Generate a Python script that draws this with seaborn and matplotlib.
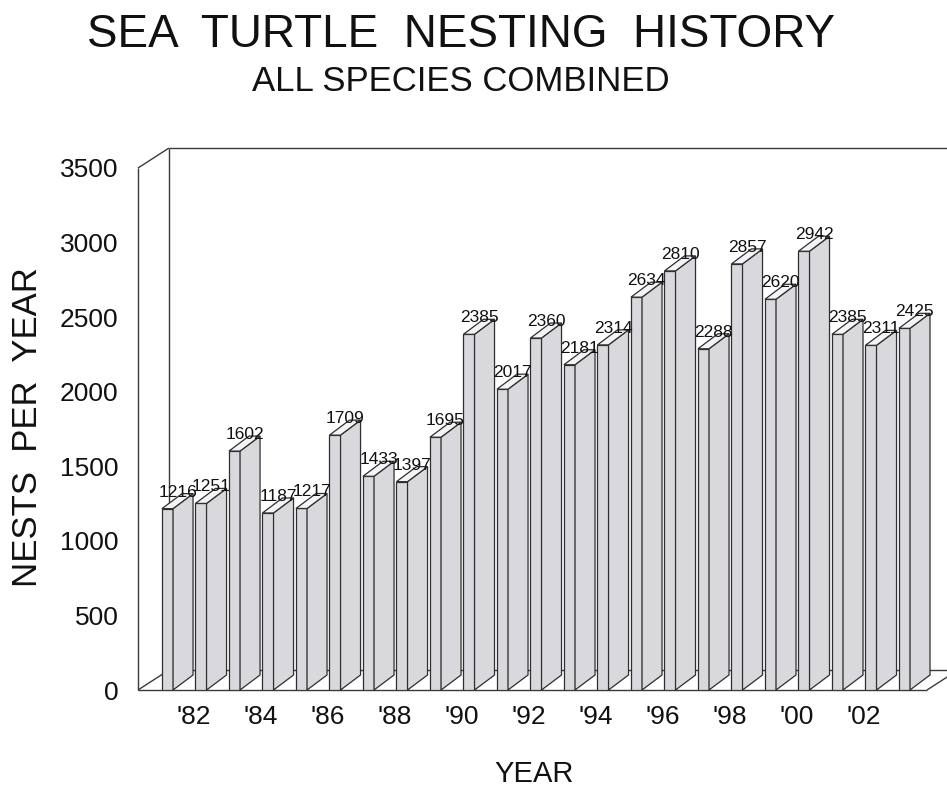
import matplotlib
matplotlib.use("Agg")
import matplotlib.pyplot as plt
from matplotlib.patches import Polygon
from matplotlib.collections import LineCollection
from matplotlib.transforms import ScaledTranslation
from matplotlib import font_manager
import pandas as pd
import seaborn as sns

# ---- data -------------------------------------------------------------
years = list(range(1981, 2004))
nests = [1216, 1251, 1602, 1187, 1217, 1709, 1433, 1397, 1695, 2385, 2017,
         2360, 2181, 2314, 2634, 2810, 2288, 2857, 2620, 2942, 2385, 2311, 2425]
tick_years = list(range(1982, 2003, 2))
tick_labels = ["'" + str(y)[2:] for y in tick_years]
y_ticks = [0, 500, 1000, 1500, 2000, 2500, 3000, 3500]

title = "SEA  TURTLE  NESTING  HISTORY"
subtitle = "ALL SPECIES COMBINED"
x_label = "YEAR"
y_label = "NESTS  PER  YEAR"

# ---- style ------------------------------------------------------------
sns.set_style("white")
plt.rcParams["font.family"] = ["Liberation Sans", "DejaVu Sans"]

installed = {f.name for f in font_manager.fontManager.ttflist}
if "Liberation Sans Narrow" in installed:
    narrow = ["Liberation Sans Narrow", "Liberation Sans"]
    value_size, xtick_size = 14.5, 21
else:
    narrow = ["Liberation Sans", "DejaVu Sans"]
    value_size, xtick_size = 12.5, 19

FACE = "#d9d9dd"
TOP = "#f4f4f6"
EDGE = "#2e2e2e"
WALL = "#3a3a3a"
INK = "#111111"

W, H = 947, 791
fig = plt.figure(figsize=(W / 100, H / 100), dpi=100)
ax = fig.add_axes([138 / W, 101 / H, 789 / W, 522 / H])
ax.set_facecolor("none")

df = pd.DataFrame({"year": [str(y) for y in years], "nests": nests})
sns.barplot(data=df, x="year", y="nests", order=list(df["year"]),
            width=0.33, color=FACE, saturation=1, edgecolor=EDGE,
            linewidth=0.9, ax=ax, zorder=3)

ax.set_xlim(-0.881, 22.672)
ax.set_ylim(0, 3500)
for s in ax.spines.values():
    s.set_visible(False)

# pixels per data unit, used for the oblique depth of the drawing
p0 = ax.transData.transform((0, 0))
p1 = ax.transData.transform((1, 1))
sx, sy = p1[0] - p0[0], p1[1] - p0[1]

# walls and floor of the box
xmin, xmax = ax.get_xlim()
wdx, wdy = 31 / sx, 20 / sy
top = y_ticks[-1]
segs = [
    [(xmin, 0), (xmin, top)],
    [(xmin, top), (xmin + wdx, top + wdy)],
    [(xmin + wdx, wdy), (xmin + wdx, top + wdy)],
    [(xmin + wdx, top + wdy), (xmax + wdx, top + wdy)],
    [(xmin, 0), (xmax, 0)],
    [(xmin + wdx, wdy), (xmax + wdx, wdy)],
    [(xmin, 0), (xmin + wdx, wdy)],
    [(xmax, 0), (xmax + wdx, wdy)],
]
ax.add_collection(LineCollection(segs, colors=WALL, linewidths=1.0,
                                 zorder=1, clip_on=False))

# side and top faces of each bar, then its value
bdx, bdy = 20 / sx, 15 / sy
bars = list(ax.patches)
for bar, v in zip(bars, nests):
    x0 = bar.get_x()
    x1 = x0 + bar.get_width()
    h = bar.get_height()
    side = Polygon([(x1, 0), (x1 + bdx, bdy), (x1 + bdx, h + bdy), (x1, h)],
                   closed=True, facecolor=FACE, edgecolor=EDGE, lw=0.9,
                   zorder=3, clip_on=False)
    lid = Polygon([(x0, h), (x1, h), (x1 + bdx, h + bdy), (x0 + bdx, h + bdy)],
                  closed=True, facecolor=TOP, edgecolor=EDGE, lw=0.9,
                  zorder=3, clip_on=False)
    ax.add_patch(side)
    ax.add_patch(lid)
    ax.text(x0 + bar.get_width() / 2 + 10 / sx, h + 12 / sy, f"{v}",
            ha="center", va="baseline", fontsize=value_size,
            family=narrow, color=INK, zorder=5, clip_on=False)

# axes ticks
ax.set_yticks(y_ticks)
ax.set_yticklabels([str(t) for t in y_ticks])
ax.set_xticks([years.index(y) for y in tick_years])
ax.set_xticklabels(tick_labels, family=narrow)
ax.tick_params(axis="y", length=0, pad=14, labelsize=19, labelcolor=INK)
ax.tick_params(axis="x", length=0, pad=11, labelsize=xtick_size,
               labelcolor=INK)
shift = ScaledTranslation(-7 / 100, 0, fig.dpi_scale_trans)
for lab in ax.get_xticklabels():
    lab.set_transform(lab.get_transform() + shift)

ax.set_xlabel(x_label, fontsize=21, va="baseline", color=INK)
ax.xaxis.set_label_coords((534 - 138) / 789, -(782 - 690) / 522)
ax.set_ylabel("")

fig.text(28 / W, 1 - 427 / H, y_label, rotation=90, ha="center",
         va="center", fontsize=25, color=INK)
fig.text(461 / W, 1 - 47 / H, title, ha="center", va="baseline",
         fontsize=33, color=INK)
fig.text(461 / W, 1 - 91 / H, subtitle, ha="center", va="baseline",
         fontsize=25, color=INK)

fig.savefig("out.png", dpi=100, facecolor="white")
